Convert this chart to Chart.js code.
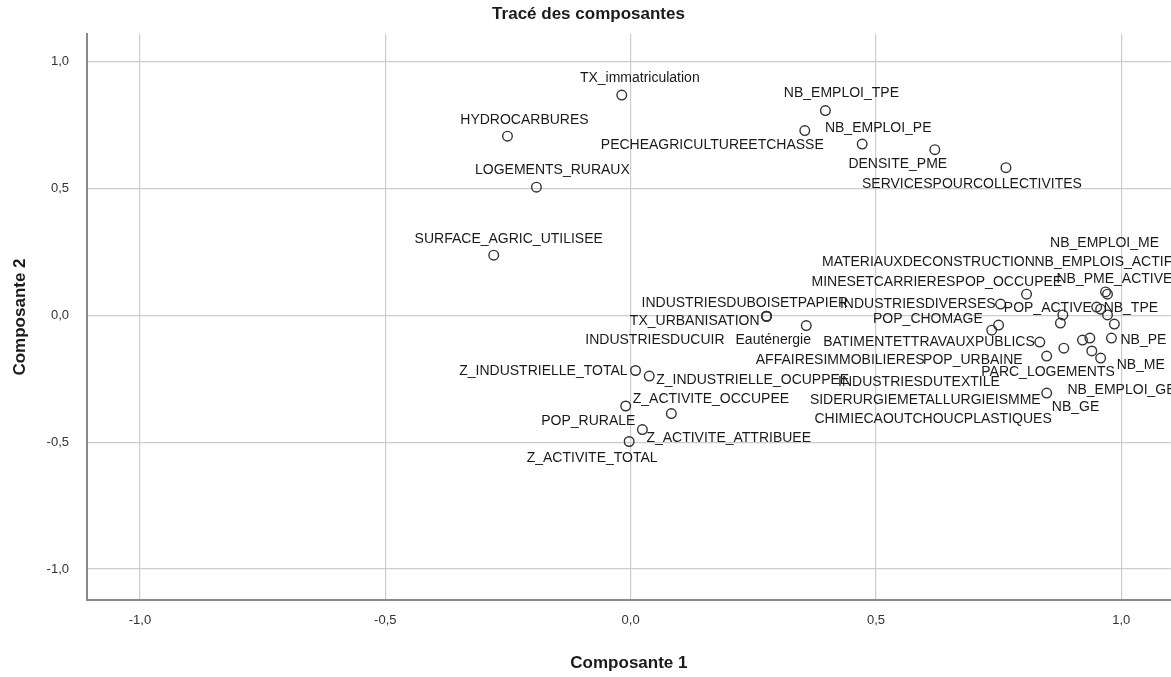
<!DOCTYPE html>
<html>
<head>
<meta charset="utf-8">
<script src="https://cdn.jsdelivr.net/npm/chart.js@4/dist/chart.umd.min.js"></script>
<style>
  html, body { margin: 0; padding: 0; background: #ffffff; overflow: hidden; }
  canvas { display: block; }
</style>
</head>
<body>
<canvas id="plot" width="1177" height="677"></canvas>
<script>
// Variable names of the component loading plot
const variables = [
  'TX_immatriculation', 'HYDROCARBURES', 'LOGEMENTS_RURAUX', 'SURFACE_AGRIC_UTILISEE',
  'NB_EMPLOI_TPE', 'PECHEAGRICULTUREETCHASSE', 'NB_EMPLOI_PE', 'DENSITE_PME',
  'SERVICESPOURCOLLECTIVITES',
  'TX_URBANISATION', 'INDUSTRIESDUBOISETPAPIER', 'INDUSTRIESDUCUIR', 'Eauténergie',
  'Z_INDUSTRIELLE_TOTAL', 'Z_INDUSTRIELLE_OCUPPEE', 'Z_ACTIVITE_OCCUPEE', 'POP_RURALE',
  'Z_ACTIVITE_ATTRIBUEE', 'Z_ACTIVITE_TOTAL',
  'INDUSTRIESDIVERSES', 'POP_OCCUPEE', 'NB_EMPLOI_ME', 'NB_EMPLOIS_ACTIFS',
  'NB_PME_ACTIVE', 'MATERIAUXDECONSTRUCTION', 'MINESETCARRIERES', 'POP_ACTIVE',
  'NB_TPE', 'POP_CHOMAGE', 'AFFAIRESIMMOBILIERES', 'BATIMENTETTRAVAUXPUBLICS',
  'NB_PE', 'POP_URBAINE', 'INDUSTRIESDUTEXTILE', 'PARC_LOGEMENTS', 'NB_ME',
  'NB_EMPLOI_GE', 'CHIMIECAOUTCHOUCPLASTIQUES', 'NB_GE', 'SIDERURGIEMETALLURGIEISMME'
];

// Loadings on component 1
const comp1 = [
  -0.018, -0.251, -0.192, -0.279,
  0.397, 0.355, 0.472, 0.620,
  0.765,
  0.277, 0.277, 0.277, 0.358,
  0.010, 0.038, -0.010, 0.083,
  0.024, -0.003,
  0.754, 0.807, 0.968, 0.972,
  0.972, 0.881, 0.876, 0.950,
  0.958, 0.736, 0.750, 0.834,
  0.980, 0.848, 0.883, 0.940, 0.958,
  0.986, 0.921, 0.936, 0.848
];

// Loadings on component 2
const comp2 = [
  0.869, 0.707, 0.506, 0.238,
  0.808, 0.729, 0.676, 0.654,
  0.583,
  -0.003, -0.003, -0.003, -0.040,
  -0.217, -0.239, -0.357, -0.387,
  -0.450, -0.497,
  0.045, 0.084, 0.093, 0.084,
  0.002, 0.002, -0.030, 0.033,
  0.025, -0.058, -0.038, -0.105,
  -0.089, -0.160, -0.129, -0.140, -0.168,
  -0.034, -0.097, -0.089, -0.306
];

// Axis ticks
const tickValues = [-1, -0.5, 0, 0.5, 1];
const tickLabels = ['-1,0', '-0,5', '0,0', '0,5', '1,0'];

// Where each name sits relative to its marker: [textAlign, dx, dy] in pixels
const labelPlacement = [
  ['center', 18, -17], ['center', 17, -16], ['center', 16, -17], ['center', 15, -16],
  ['center', 16, -17], ['right', 19, 15], ['center', 16, -16], ['center', -37, 15],
  ['center', -34, 17],
  ['right', -7, 5], ['left', -125, -13], ['right', -42, 24], ['center', -33, 15],
  ['right', -8, 1], ['left', 7, 4], ['left', 7, -7], ['right', -36, 8],
  ['left', 4, 9], ['center', -37, 17],
  ['right', -5, 0], ['left', -71, -12], ['center', -1, -49], ['left', -73, -32],
  ['left', -51, -36], ['right', -28, -53], ['right', -105, -41], ['right', -5, 1],
  ['left', 3, -1], ['right', -9, -11], ['right', -74, 35], ['right', -5, 0],
  ['left', 9, 2], ['right', -24, 4], ['right', -64, 34], ['right', 23, 21], ['left', 16, 7],
  ['left', -47, 66], ['left', -268, 79], ['left', -38, 69], ['right', -6, 7]
];

const LABEL_FONT = '14px "Liberation Sans", Arial, sans-serif';

// Writes the variable names next to their markers
const pointLabels = {
  id: 'pointLabels',
  afterDatasetsDraw(chart) {
    const ctx = chart.ctx;
    const meta = chart.getDatasetMeta(0);
    ctx.save();
    ctx.font = LABEL_FONT;
    ctx.fillStyle = '#1a1a1a';
    ctx.textBaseline = 'middle';
    meta.data.forEach((el, i) => {
      const [align, dx, dy] = labelPlacement[i];
      ctx.textAlign = align;
      ctx.fillText(variables[i], el.x + dx, el.y + dy);
    });
    ctx.restore();
  }
};

const points = variables.map((name, i) => ({ x: comp1[i], y: comp2[i] }));

const axisFont = { family: '"Liberation Sans", Arial, sans-serif', size: 13 };
const titleFont = { family: '"Liberation Sans", Arial, sans-serif', size: 17, weight: 'bold' };

new Chart(document.getElementById('plot'), {
  type: 'scatter',
  data: {
    datasets: [{
      data: points,
      pointStyle: 'circle',
      pointRadius: 4.8,
      pointBorderWidth: 1.4,
      borderColor: '#333333',
      backgroundColor: 'rgba(255,255,255,0)',
      pointHoverRadius: 4.8
    }]
  },
  options: {
    responsive: false,
    animation: false,
    events: [],
    layout: { padding: 0 },
    plugins: {
      legend: { display: false },
      tooltip: { enabled: false },
      title: {
        display: true,
        text: 'Tracé des composantes',
        color: '#1a1a1a',
        font: { family: '"Liberation Sans", Arial, sans-serif', size: 17, weight: 'bold' },
        padding: { top: 4, bottom: 9.6 }
      }
    },
    scales: {
      x: {
        type: 'linear',
        min: -1.108,
        max: 1.101,
        afterBuildTicks: s => { s.ticks = tickValues.map(v => ({ value: v })); },
        afterFit: s => { s.height = 77; },
        ticks: {
          callback: (v, i) => tickLabels[i],
          color: '#333333',
          font: axisFont,
          padding: 13,
          maxRotation: 0
        },
        grid: { color: '#cccccc', lineWidth: 1.2, drawTicks: false },
        border: { color: '#8a8a8a', width: 2 },
        title: {
          display: true,
          text: 'Composante 1',
          color: '#1a1a1a',
          font: titleFont,
          padding: { top: 0, bottom: 3 }
        }
      },
      y: {
        type: 'linear',
        min: -1.122,
        max: 1.110,
        afterBuildTicks: s => { s.ticks = tickValues.map(v => ({ value: v })); },
        afterFit: s => { s.width = 87; },
        ticks: {
          callback: (v, i) => tickLabels[i],
          color: '#333333',
          font: axisFont,
          padding: 18
        },
        grid: { color: '#cccccc', lineWidth: 1.2, drawTicks: false },
        border: { color: '#8a8a8a', width: 2 },
        title: {
          display: true,
          text: 'Composante 2',
          color: '#1a1a1a',
          font: titleFont,
          padding: { top: 10, bottom: 0 }
        }
      }
    }
  },
  plugins: [pointLabels]
});
</script>
</body>
</html>
